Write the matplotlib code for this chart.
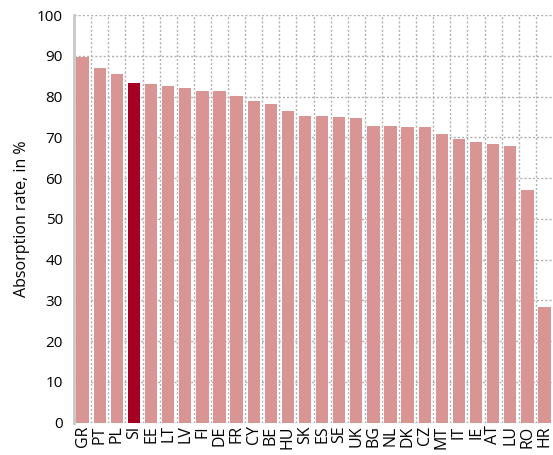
#!/usr/bin/env python3
'''Absorption rate by member state, bar chart'''

import numpy as np
import matplotlib
matplotlib.use('Agg')
import matplotlib.pyplot as plt

countries = ['GR', 'PT', 'PL', 'SI', 'EE', 'LT', 'LV', 'FI', 'DE', 'FR', 'CY', 'BE', 'HU', 'SK',
             'ES', 'SE', 'UK', 'BG', 'NL', 'DK', 'CZ', 'MT', 'IT', 'IE', 'AT', 'LU', 'RO', 'HR']
absorption = [89.6, 87.0, 85.5, 83.3, 83.1, 82.7, 82.2, 81.4, 81.4, 80.2, 79.0, 78.1, 76.5, 75.3,
              75.3, 75.0, 74.8, 72.8, 72.8, 72.6, 72.5, 70.9, 69.6, 68.8, 68.4, 67.9, 57.1, 28.3]
highlight = 'SI'
yticks = list(range(0, 101, 10))

plt.rcParams['font.family'] = ['Open Sans', 'DejaVu Sans']

fig = plt.figure(figsize=(5.53, 4.55), dpi=100)
ax = fig.add_axes([0.134, 0.071, 0.866, 0.896])

x = np.arange(len(countries))
colors = ['#A50021' if c == highlight else '#D99594' for c in countries]
ax.bar(x, absorption, width=0.72, color=colors, zorder=3)

ax.set_xlim(-0.5, len(countries) - 0.5)
ax.set_ylim(0, 100)
ax.set_yticks(yticks)
ax.set_xticks(x)
ax.set_xticklabels(countries, rotation=90, fontsize=11.5)
ax.tick_params(axis='y', labelsize=11, length=0, pad=8)
ax.tick_params(axis='x', length=0, pad=2)

# dotted grid: horizontal at every 10, vertical between categories
ax.set_xticks(np.arange(len(countries) - 1) + 0.5, minor=True)
ax.tick_params(axis='x', which='minor', length=0)
ax.grid(axis='y', which='major', linestyle=(0, (1.5, 1.5)), color='#B0B0B0', linewidth=1, zorder=0)
ax.grid(axis='x', which='minor', linestyle=(0, (1.5, 1.5)), color='#B0B0B0', linewidth=1, zorder=0)

for side in ['top', 'right', 'bottom']:
    ax.spines[side].set_visible(False)
ax.spines['left'].set_color('#C8C8C8')
ax.spines['left'].set_linewidth(2)

ax.set_ylabel('Absorption rate, in %', fontsize=11.5, labelpad=5)

fig.savefig('out.png', dpi=100)
